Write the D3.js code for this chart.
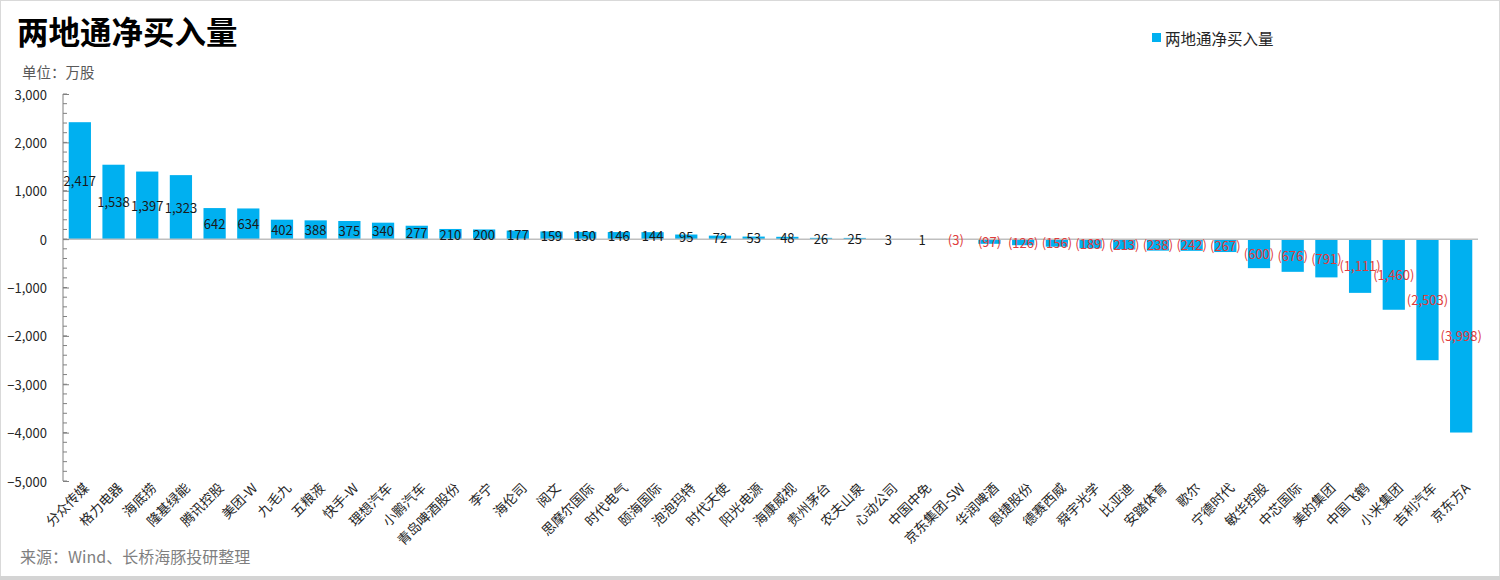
<!DOCTYPE html>
<html><head><meta charset="utf-8">
<script src="https://cdn.jsdelivr.net/npm/d3@7"></script>
<style>
html,body{margin:0;padding:0;background:#fff;}
svg{display:block;}
text{font-family:"Noto Sans CJK SC","Noto Sans",sans-serif;}
</style></head>
<body>
<svg id="chart" width="1500" height="580"></svg>
<script>
const categories = ["分众传媒","格力电器","海底捞","隆基绿能","腾讯控股","美团-W","九毛九","五粮液","快手-W","理想汽车","小鹏汽车","青岛啤酒股份","李宁","海伦司","阅文","思摩尔国际","时代电气","颐海国际","泡泡玛特","时代天使","阳光电源","海康威视","贵州茅台","农夫山泉","心动公司","中国中免","京东集团-SW","华润啤酒","恩捷股份","德赛西威","舜宇光学","比亚迪","安踏体育","歌尔","宁德时代","敏华控股","中芯国际","美的集团","中国飞鹤","小米集团","吉利汽车","京东方A"];
const values = [2417,1538,1397,1323,642,634,402,388,375,340,277,210,200,177,159,150,146,144,95,72,53,48,26,25,3,1,-3,-97,-126,-156,-189,-213,-238,-242,-267,-600,-676,-791,-1111,-1460,-2503,-3998];
const yTicks = [3000,2000,1000,0,-1000,-2000,-3000,-4000,-5000];
const seriesName = "两地通净买入量";
const title = "两地通净买入量";
const unit = "单位：万股";
const source = "来源：Wind、长桥海豚投研整理";

const svg = d3.select("#chart");
const W = 1500, H = 580;
const x0 = 63, x1 = 1478, yTop = 94, yBot = 481;

// frame
svg.append("rect").attr("x",0.5).attr("y",0.5).attr("width",W-1).attr("height",H-1)
  .attr("fill","#fff").attr("stroke","#d9d9d9");
svg.append("rect").attr("x",0).attr("y",576).attr("width",W).attr("height",4).attr("fill","#d4d4d4");

const x = d3.scaleBand().domain(categories).range([x0,x1]).paddingInner(0.34).paddingOuter(0.17);
const y = d3.scaleLinear().domain([-5000,3000]).range([yBot,yTop]);

// titles
svg.append("text").attr("x",17).attr("y",44).attr("font-size",31.5).attr("font-weight","bold")
  .attr("fill","#000").text(title);
svg.append("text").attr("x",22).attr("y",78).attr("font-size",14.5).attr("fill","#595959").text(unit);
svg.append("text").attr("x",20).attr("y",563).attr("font-size",16).attr("fill","#7f7f7f").text(source);

// legend
const lg = svg.append("g").attr("transform","translate(1152,30)");
lg.append("rect").attr("x",0).attr("y",3).attr("width",9).attr("height",9).attr("fill","#00b0f0");
lg.append("text").attr("x",13).attr("y",7.5).attr("dominant-baseline","central").attr("font-size",15.5).attr("fill","#262626").text(seriesName);

// bars
svg.append("g").selectAll("rect").data(values).join("rect")
  .attr("x",(d,i)=>x(categories[i]))
  .attr("width",x.bandwidth())
  .attr("y",d=>Math.min(y(d),y(0)))
  .attr("height",d=>Math.abs(y(d)-y(0)))
  .attr("fill","#00b0f0");

// zero line
svg.append("line").attr("x1",x0).attr("x2",x1).attr("y1",y(0)).attr("y2",y(0))
  .attr("stroke","#bfbfbf").attr("stroke-width",1.5);

// y axis
const yAxis = d3.axisRight(y).tickValues(yTicks).tickSize(6).tickFormat("");
const minor = d3.range(-5000,3001,200);
const ag = svg.append("g").attr("transform",`translate(${x0},0)`);
ag.append("line").attr("x1",0).attr("x2",0).attr("y1",yTop).attr("y2",yBot).attr("stroke","#808080");
ag.selectAll("line.minor").data(minor).join("line").attr("class","minor")
  .attr("x1",0).attr("x2",4).attr("y1",d=>y(d)).attr("y2",d=>y(d)).attr("stroke","#808080");
const g2 = svg.append("g").attr("transform",`translate(${x0},0)`).call(yAxis);
g2.select(".domain").remove();
g2.selectAll(".tick line").attr("stroke","#808080");
svg.append("g").selectAll("text").data(yTicks).join("text")
  .attr("x",47).attr("y",d=>y(d)).attr("text-anchor","end").attr("dominant-baseline","central")
  .attr("font-size",13).attr("fill","#262626").text(d=>d3.format(",")(d));

// data labels
const fmt = d3.format(",");
svg.append("g").selectAll("text").data(values).join("text")
  .attr("x",(d,i)=>x(categories[i])+x.bandwidth()/2)
  .attr("y",d=>(y(d)+y(0))/2)
  .attr("text-anchor","middle").attr("dominant-baseline","central")
  .attr("font-size",13)
  .attr("fill",d=>d<0?"#e03c3c":"#1a1a1a")
  .text(d=>d<0?`(${fmt(-d)})`:fmt(d));

// category labels
svg.append("g").selectAll("text").data(categories).join("text")
  .attr("transform",d=>`translate(${x(d)+x.bandwidth()/2+10},${489}) rotate(-45)`)
  .attr("text-anchor","end").attr("font-size",13.5).attr("fill","#262626").text(d=>d);
</script>
</body></html>
